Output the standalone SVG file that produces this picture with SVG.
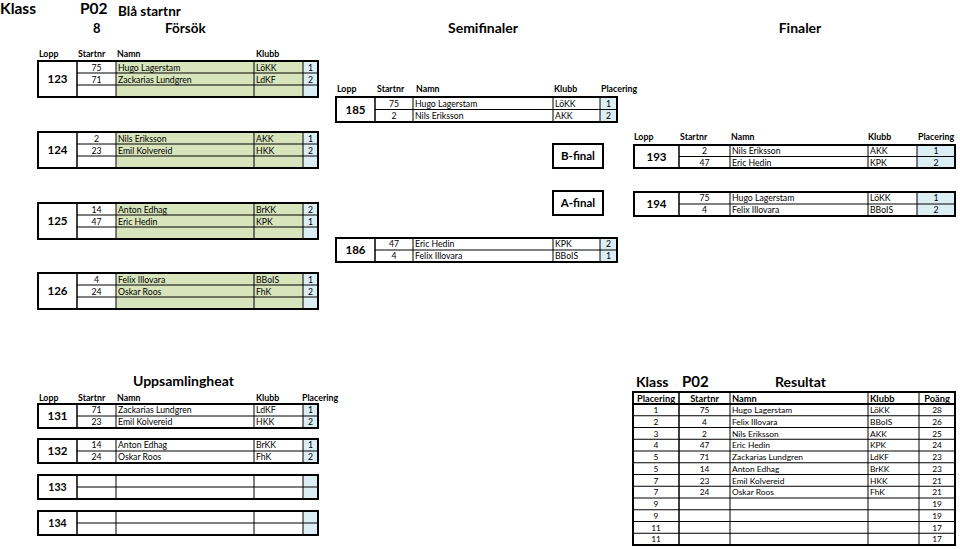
<svg xmlns="http://www.w3.org/2000/svg" width="960" height="549" viewBox="0 0 960 549">
<style>
text{font-family:Lato,"Liberation Sans",sans-serif;fill:#000}
.d{font-size:8.7px}
.r{font-size:8.4px}
.h{font-size:8.8px;font-weight:bold}
.rh{font-size:9.3px;font-weight:bold}
.c{text-anchor:middle}
.lp{font-size:11.5px;font-weight:bold;text-anchor:middle}
.lps{font-size:10.5px;font-weight:bold;text-anchor:middle}
.ttl{font-size:14px;font-weight:bold}
.g{fill:#d8e4bc}
.b{fill:#dbeef4}
.w{fill:#fff}
.ln{stroke:#000;stroke-width:1;fill:none}
.lm{stroke:#000;stroke-width:1.5;fill:none}
.ob{fill:none;stroke:#000;stroke-width:2}
.fb{font-size:11.5px;font-weight:bold;text-anchor:middle}
</style>
<rect width="960" height="549" fill="#fff"/>

<g id="titles">
<text x="0" y="14" style="font-size:15.5px;font-weight:bold">Klass</text>
<text x="80" y="14" style="font-size:15.5px;font-weight:bold">P02</text>
<text x="118" y="16" style="font-size:13.5px;font-weight:bold">Blå startnr</text>
<text x="93" y="33" style="font-size:13px;font-weight:bold">8</text>
<text x="165" y="33" style="font-size:13.5px;font-weight:bold">Försök</text>
<text x="483" y="33" class="ttl c">Semifinaler</text>
<text x="800" y="33" class="ttl c">Finaler</text>
</g>

<g id="hdr-forsok">
<text x="39" y="57" class="h">Lopp</text>
<text x="78" y="57" class="h">Startnr</text>
<text x="117" y="57" class="h">Namn</text>
<text x="256" y="57" class="h">Klubb</text>
</g>

<g id="lopp123">
<rect x="116" y="61" width="187" height="36" class="g"/>
<rect x="303" y="61" width="15" height="36" class="b"/>
<path d="M116 61V97M254 61V97M303 61V97M77 73H318M77 85H318" class="ln"/>
<path d="M77 61V97" class="lm"/>
<rect x="38" y="61" width="280" height="36" class="ob"/>
<text x="57.5" y="83" class="lp">123</text>
<text x="96.5" y="70.5" class="d c">75</text><text x="118" y="70.5" class="d">Hugo Lagerstam</text><text x="256" y="70.5" class="d">LöKK</text><text x="310.5" y="70.5" class="d c">1</text>
<text x="96.5" y="82.5" class="d c">71</text><text x="118" y="82.5" class="d">Zackarias Lundgren</text><text x="256" y="82.5" class="d">LdKF</text><text x="310.5" y="82.5" class="d c">2</text>
</g>

<g id="lopp124">
<rect x="116" y="132" width="187" height="36" class="g"/>
<rect x="303" y="132" width="15" height="36" class="b"/>
<path d="M116 132V168M254 132V168M303 132V168M77 144H318M77 156H318" class="ln"/>
<path d="M77 132V168" class="lm"/>
<rect x="38" y="132" width="280" height="36" class="ob"/>
<text x="57.5" y="154" class="lp">124</text>
<text x="96.5" y="141.5" class="d c">2</text><text x="118" y="141.5" class="d">Nils Eriksson</text><text x="256" y="141.5" class="d">AKK</text><text x="310.5" y="141.5" class="d c">1</text>
<text x="96.5" y="153.5" class="d c">23</text><text x="118" y="153.5" class="d">Emil Kolvereid</text><text x="256" y="153.5" class="d">HKK</text><text x="310.5" y="153.5" class="d c">2</text>
</g>

<g id="lopp125">
<rect x="116" y="203" width="187" height="36" class="g"/>
<rect x="303" y="203" width="15" height="36" class="b"/>
<path d="M116 203V239M254 203V239M303 203V239M77 215H318M77 227H318" class="ln"/>
<path d="M77 203V239" class="lm"/>
<rect x="38" y="203" width="280" height="36" class="ob"/>
<text x="57.5" y="225" class="lp">125</text>
<text x="96.5" y="212.5" class="d c">14</text><text x="118" y="212.5" class="d">Anton Edhag</text><text x="256" y="212.5" class="d">BrKK</text><text x="310.5" y="212.5" class="d c">2</text>
<text x="96.5" y="224.5" class="d c">47</text><text x="118" y="224.5" class="d">Eric Hedin</text><text x="256" y="224.5" class="d">KPK</text><text x="310.5" y="224.5" class="d c">1</text>
</g>

<g id="lopp126">
<rect x="116" y="273" width="187" height="36" class="g"/>
<rect x="303" y="273" width="15" height="36" class="b"/>
<path d="M116 273V309M254 273V309M303 273V309M77 285H318M77 297H318" class="ln"/>
<path d="M77 273V309" class="lm"/>
<rect x="38" y="273" width="280" height="36" class="ob"/>
<text x="57.5" y="295" class="lp">126</text>
<text x="96.5" y="282.5" class="d c">4</text><text x="118" y="282.5" class="d">Felix Illovara</text><text x="256" y="282.5" class="d">BBoIS</text><text x="310.5" y="282.5" class="d c">1</text>
<text x="96.5" y="294.5" class="d c">24</text><text x="118" y="294.5" class="d">Oskar Roos</text><text x="256" y="294.5" class="d">FhK</text><text x="310.5" y="294.5" class="d c">2</text>
</g>

<g id="hdr-semi">
<text x="337" y="92" class="h">Lopp</text>
<text x="377" y="92" class="h">Startnr</text>
<text x="416" y="92" class="h">Namn</text>
<text x="554" y="92" class="h">Klubb</text>
<text x="601" y="92" class="h">Placering</text>
</g>

<g id="lopp185">
<rect x="600" y="97" width="17" height="25" class="b"/>
<path d="M413 97V122M553 97V122M600 97V122M375 109.5H617" class="ln"/>
<path d="M375 97V122" class="lm"/>
<rect x="336" y="97" width="281" height="25" class="ob"/>
<text x="355.5" y="113.5" class="lp">185</text>
<text x="394" y="106.5" class="d c">75</text><text x="415" y="106.5" class="d">Hugo Lagerstam</text><text x="555" y="106.5" class="d">LöKK</text><text x="608.5" y="106.5" class="d c">1</text>
<text x="394" y="119" class="d c">2</text><text x="415" y="119" class="d">Nils Eriksson</text><text x="555" y="119" class="d">AKK</text><text x="608.5" y="119" class="d c">2</text>
</g>

<g id="lopp186">
<rect x="600" y="238" width="17" height="24" class="b"/>
<path d="M413 238V262M553 238V262M600 238V262M375 250H617" class="ln"/>
<path d="M375 238V262" class="lm"/>
<rect x="336" y="238" width="281" height="24" class="ob"/>
<text x="355.5" y="254" class="lp">186</text>
<text x="394" y="247" class="d c">47</text><text x="415" y="247" class="d">Eric Hedin</text><text x="555" y="247" class="d">KPK</text><text x="608.5" y="247" class="d c">2</text>
<text x="394" y="259" class="d c">4</text><text x="415" y="259" class="d">Felix Illovara</text><text x="555" y="259" class="d">BBoIS</text><text x="608.5" y="259" class="d c">1</text>
</g>

<g id="bfinal">
<rect x="553" y="144" width="50" height="24" class="ob"/>
<text x="578" y="160" class="fb">B-final</text>
</g>
<g id="afinal">
<rect x="553" y="191" width="50" height="24" class="ob"/>
<text x="578" y="207" class="fb">A-final</text>
</g>

<g id="hdr-final">
<text x="634" y="140" class="h">Lopp</text>
<text x="680" y="140" class="h">Startnr</text>
<text x="731" y="140" class="h">Namn</text>
<text x="868" y="140" class="h">Klubb</text>
<text x="918" y="140" class="h">Placering</text>
</g>

<g id="lopp193">
<rect x="917" y="145" width="38" height="23" class="b"/>
<path d="M730 145V168M868 145V168M917 145V168M679 156.5H955" class="ln"/>
<path d="M679 145V168" class="lm"/>
<rect x="634" y="145" width="321" height="23" class="ob"/>
<text x="656.5" y="160.5" class="lp">193</text>
<text x="704.5" y="154" class="d c">2</text><text x="732" y="154" class="d">Nils Eriksson</text><text x="870" y="154" class="d">AKK</text><text x="936" y="154" class="d c">1</text>
<text x="704.5" y="165.5" class="d c">47</text><text x="732" y="165.5" class="d">Eric Hedin</text><text x="870" y="165.5" class="d">KPK</text><text x="936" y="165.5" class="d c">2</text>
</g>

<g id="lopp194">
<rect x="917" y="192" width="38" height="24" class="b"/>
<path d="M730 192V216M868 192V216M917 192V216M679 204H955" class="ln"/>
<path d="M679 192V216" class="lm"/>
<rect x="634" y="192" width="321" height="24" class="ob"/>
<text x="656.5" y="208" class="lp">194</text>
<text x="704.5" y="201" class="d c">75</text><text x="732" y="201" class="d">Hugo Lagerstam</text><text x="870" y="201" class="d">LöKK</text><text x="936" y="201" class="d c">1</text>
<text x="704.5" y="213" class="d c">4</text><text x="732" y="213" class="d">Felix Illovara</text><text x="870" y="213" class="d">BBoIS</text><text x="936" y="213" class="d c">2</text>
</g>

<g id="uppsamling-title">
<text x="133" y="386" class="ttl">Uppsamlingheat</text>
<text x="39" y="401" class="h">Lopp</text>
<text x="78" y="401" class="h">Startnr</text>
<text x="117" y="401" class="h">Namn</text>
<text x="256" y="401" class="h">Klubb</text>
<text x="302" y="401" class="h">Placering</text>
</g>

<g id="lopp131">
<rect x="303" y="404" width="15" height="24" class="b"/>
<path d="M116 404V428M254 404V428M303 404V428M77 416H318" class="ln"/>
<path d="M77 404V428" class="lm"/>
<rect x="38" y="404" width="280" height="24" class="ob"/>
<text x="57.5" y="420" class="lp">131</text>
<text x="96.5" y="413" class="d c">71</text><text x="118" y="413" class="d">Zackarias Lundgren</text><text x="256" y="413" class="d">LdKF</text><text x="310.5" y="413" class="d c">1</text>
<text x="96.5" y="425" class="d c">23</text><text x="118" y="425" class="d">Emil Kolvereid</text><text x="256" y="425" class="d">HKK</text><text x="310.5" y="425" class="d c">2</text>
</g>

<g id="lopp132">
<rect x="303" y="439" width="15" height="24" class="b"/>
<path d="M116 439V463M254 439V463M303 439V463M77 451H318" class="ln"/>
<path d="M77 439V463" class="lm"/>
<rect x="38" y="439" width="280" height="24" class="ob"/>
<text x="57.5" y="455" class="lp">132</text>
<text x="96.5" y="448" class="d c">14</text><text x="118" y="448" class="d">Anton Edhag</text><text x="256" y="448" class="d">BrKK</text><text x="310.5" y="448" class="d c">1</text>
<text x="96.5" y="460" class="d c">24</text><text x="118" y="460" class="d">Oskar Roos</text><text x="256" y="460" class="d">FhK</text><text x="310.5" y="460" class="d c">2</text>
</g>

<g id="lopp133">
<rect x="303" y="475" width="15" height="24" class="b"/>
<path d="M116 475V499M254 475V499M303 475V499M77 487H318" class="ln"/>
<path d="M77 475V499" class="lm"/>
<rect x="38" y="475" width="280" height="24" class="ob"/>
<text x="57.5" y="490.5" class="lps">133</text>
</g>

<g id="lopp134">
<rect x="303" y="511" width="15" height="24" class="b"/>
<path d="M116 511V535M254 511V535M303 511V535M77 523H318" class="ln"/>
<path d="M77 511V535" class="lm"/>
<rect x="38" y="511" width="280" height="24" class="ob"/>
<text x="57.5" y="526.5" class="lps">134</text>
</g>

<g id="resultat">
<text x="636" y="387" class="ttl">Klass</text>
<text x="682" y="387" style="font-size:15px;font-weight:bold">P02</text>
<text x="775" y="387" class="ttl">Resultat</text>
<path d="M633 415.75H955M633 427.5H955M633 439.25H955M633 451H955M633 462.75H955M633 474.5H955M633 486.25H955M633 498H955M633 509.75H955M633 521.5H955M633 533.25H955" class="ln"/>
<path d="M730 392V545M868 392V545M919 392V545" class="ln"/>
<path d="M679 392V545" class="lm"/>
<path d="M633 404H955" class="ob"/>
<rect x="633" y="392" width="322" height="153" class="ob"/>
<text x="656" y="401.5" class="rh c">Placering</text>
<text x="704.5" y="401.5" class="rh c">Startnr</text>
<text x="732" y="401.5" class="rh">Namn</text>
<text x="870" y="401.5" class="rh">Klubb</text>
<text x="937" y="401.5" class="rh c">Poäng</text>
<text x="656" y="413" class="r c">1</text><text x="704.5" y="413" class="r c">75</text><text x="732" y="413" class="r">Hugo Lagerstam</text><text x="870" y="413" class="r">LöKK</text><text x="937" y="413" class="r c">28</text>
<text x="656" y="424.75" class="r c">2</text><text x="704.5" y="424.75" class="r c">4</text><text x="732" y="424.75" class="r">Felix Illovara</text><text x="870" y="424.75" class="r">BBoIS</text><text x="937" y="424.75" class="r c">26</text>
<text x="656" y="436.5" class="r c">3</text><text x="704.5" y="436.5" class="r c">2</text><text x="732" y="436.5" class="r">Nils Eriksson</text><text x="870" y="436.5" class="r">AKK</text><text x="937" y="436.5" class="r c">25</text>
<text x="656" y="448.25" class="r c">4</text><text x="704.5" y="448.25" class="r c">47</text><text x="732" y="448.25" class="r">Eric Hedin</text><text x="870" y="448.25" class="r">KPK</text><text x="937" y="448.25" class="r c">24</text>
<text x="656" y="460" class="r c">5</text><text x="704.5" y="460" class="r c">71</text><text x="732" y="460" class="r">Zackarias Lundgren</text><text x="870" y="460" class="r">LdKF</text><text x="937" y="460" class="r c">23</text>
<text x="656" y="471.75" class="r c">5</text><text x="704.5" y="471.75" class="r c">14</text><text x="732" y="471.75" class="r">Anton Edhag</text><text x="870" y="471.75" class="r">BrKK</text><text x="937" y="471.75" class="r c">23</text>
<text x="656" y="483.5" class="r c">7</text><text x="704.5" y="483.5" class="r c">23</text><text x="732" y="483.5" class="r">Emil Kolvereid</text><text x="870" y="483.5" class="r">HKK</text><text x="937" y="483.5" class="r c">21</text>
<text x="656" y="495.25" class="r c">7</text><text x="704.5" y="495.25" class="r c">24</text><text x="732" y="495.25" class="r">Oskar Roos</text><text x="870" y="495.25" class="r">FhK</text><text x="937" y="495.25" class="r c">21</text>
<text x="656" y="507" class="r c">9</text><text x="937" y="507" class="r c">19</text>
<text x="656" y="518.75" class="r c">9</text><text x="937" y="518.75" class="r c">19</text>
<text x="656" y="530.5" class="r c">11</text><text x="937" y="530.5" class="r c">17</text>
<text x="656" y="542.25" class="r c">11</text><text x="937" y="542.25" class="r c">17</text>
</g>
</svg>
